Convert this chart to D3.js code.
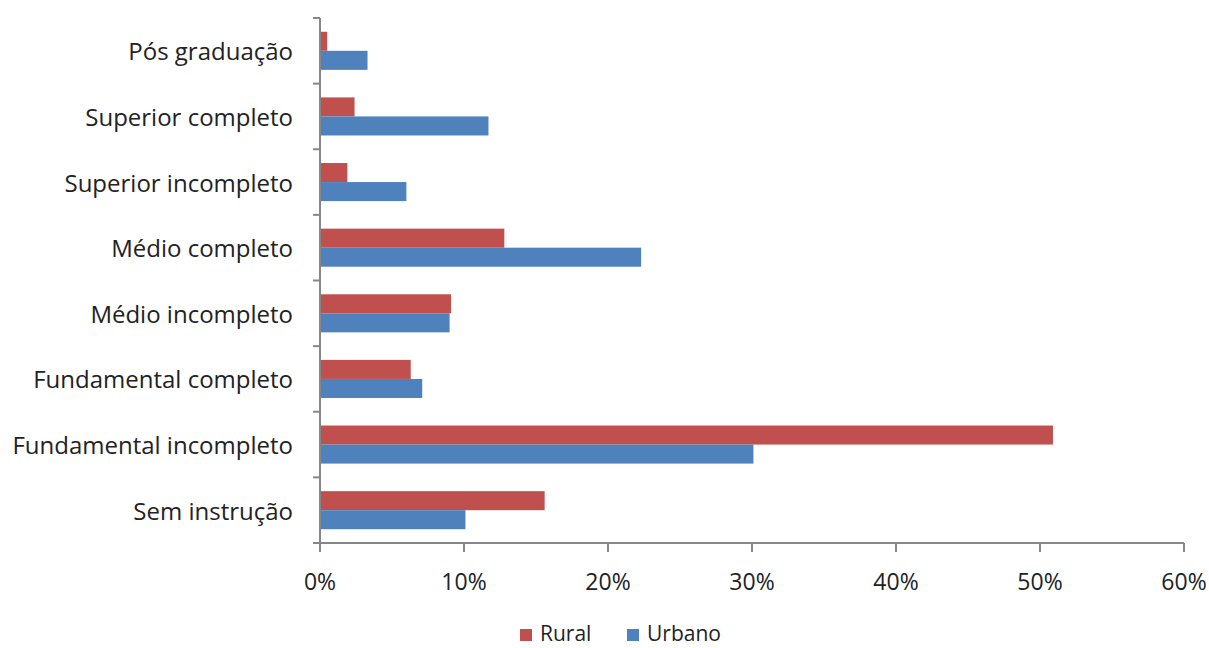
<!DOCTYPE html>
<html>
<head>
<meta charset="utf-8">
<script src="https://cdn.jsdelivr.net/npm/d3@7"></script>
<style>
  body { margin: 0; background: #fff; }
  text { font-family: "Open Sans", sans-serif; fill: #222; }
</style>
</head>
<body>
<div id="content"></div>
<script>
// categories, top to bottom
const categories = ["Pós graduação", "Superior completo", "Superior incompleto", "Médio completo",
  "Médio incompleto", "Fundamental completo", "Fundamental incompleto", "Sem instrução"];
const rural  = [0.5, 2.4, 1.9, 12.8, 9.1, 6.3, 50.9, 15.6];
const urbano = [3.3, 11.7, 6.0, 22.3, 9.0, 7.1, 30.1, 10.1];
const series = ["Rural", "Urbano"];
const colors = ["#C0504D", "#4F81BD"];
const xTicks = [0, 10, 20, 30, 40, 50, 60];

const w = 1209, h = 648;
const x0 = 320, x1 = 1184, yTop = 18, yBot = 543;

const svg = d3.select("#content").append("svg")
  .attr("width", w).attr("height", h);

const xScale = d3.scaleLinear().domain([0, 60]).range([x0, x1]);
const yScale = d3.scaleBand().domain(categories).range([yTop, yBot]).paddingInner(0.42).paddingOuter(0.21);
const sub = d3.scaleBand().domain(series).range([0, yScale.bandwidth()]);

const rows = categories.map((c, i) => ({ cat: c, vals: [rural[i], urbano[i]] }));

const g = svg.selectAll("g.row").data(rows).enter().append("g")
  .attr("transform", d => `translate(0,${yScale(d.cat)})`);

g.selectAll("rect")
  .data(d => d.vals.map((v, j) => ({ s: series[j], v: v, c: colors[j] })))
  .enter().append("rect")
  .attr("x", x0)
  .attr("y", d => sub(d.s))
  .attr("height", sub.bandwidth())
  .attr("width", d => xScale(d.v) - x0)
  .attr("fill", d => d.c);

// axes
const axisColor = "#868686";
svg.append("line").attr("x1", x0).attr("x2", x0).attr("y1", yTop).attr("y2", yBot)
  .attr("stroke", axisColor).attr("stroke-width", 2);
svg.append("line").attr("x1", x0 - 7).attr("x2", x1).attr("y1", yBot).attr("y2", yBot)
  .attr("stroke", axisColor).attr("stroke-width", 2);

// category boundary ticks
const step = (yBot - yTop) / categories.length;
svg.selectAll("line.yt").data(d3.range(categories.length)).enter().append("line")
  .attr("x1", x0 - 7).attr("x2", x0).attr("y1", i => yTop + i * step).attr("y2", i => yTop + i * step)
  .attr("stroke", axisColor).attr("stroke-width", 2);

svg.selectAll("text.cat").data(categories).enter().append("text")
  .attr("x", 293).attr("y", d => yScale(d) + yScale.bandwidth() / 2)
  .attr("text-anchor", "end").attr("dominant-baseline", "central")
  .style("font-size", "24px").text(d => d);

svg.selectAll("line.xt").data(xTicks).enter().append("line")
  .attr("x1", d => xScale(d)).attr("x2", d => xScale(d)).attr("y1", yBot).attr("y2", yBot + 9)
  .attr("stroke", axisColor).attr("stroke-width", 2);

svg.selectAll("text.xl").data(xTicks).enter().append("text")
  .attr("x", d => xScale(d)).attr("y", 581)
  .attr("text-anchor", "middle").attr("dominant-baseline", "central")
  .style("font-size", "23px").text(d => d + "%");

// legend
const leg = svg.append("g").attr("transform", "translate(520,633)");
const lx = [0, 107];
series.forEach((s, i) => {
  leg.append("rect").attr("x", lx[i]).attr("y", -4).attr("width", 12).attr("height", 12).attr("fill", colors[i]);
  leg.append("text").attr("x", lx[i] + 20).attr("y", 0).attr("dominant-baseline", "central")
    .style("font-size", "21px").text(s);
});
</script>
</body>
</html>
